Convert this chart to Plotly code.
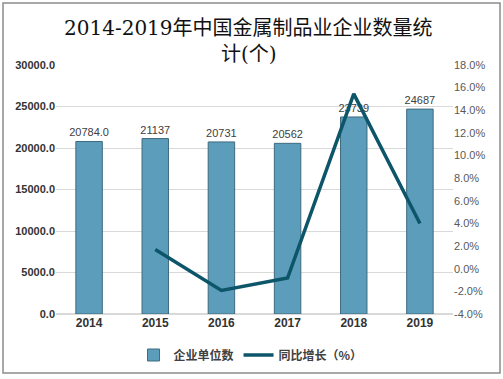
import plotly.graph_objects as go

years = ["2014", "2015", "2016", "2017", "2018", "2019"]
counts = [20784, 21137, 20731, 20562, 23739, 24687]
count_labels = ["20784.0", "21137", "20731", "20562", "23739", "24687"]
growth_years = ["2015", "2016", "2017", "2018", "2019"]
growth = [1.70, -1.92, -0.82, 15.45, 3.99]

left_ticks = [0, 5000, 10000, 15000, 20000, 25000, 30000]
left_labels = ["0.0", "5000.0", "10000.0", "15000.0", "20000.0", "25000.0", "30000.0"]
right_ticks = [-4, -2, 0, 2, 4, 6, 8, 10, 12, 14, 16, 18]
right_labels = [f"{v:.1f}%" for v in right_ticks]

title_lines = ["2014-2019年中国金属制品业企业数量统", "计(个)"]

PH = 249.0  # plot height in px
PW = 397.0  # plot width in px

fig = go.Figure()
fig.add_trace(go.Bar(
    x=years, y=counts, name="企业单位数",
    text=count_labels, textposition="outside", cliponaxis=False, constraintext="none",
    textfont=dict(size=11, color="#404040", family="Liberation Sans, Arial"),
    marker=dict(color="#5c9dbb", line=dict(color="#3f6a7e", width=1)),
    width=0.4,
))
fig.add_trace(go.Scatter(
    x=growth_years, y=growth, name="同比增长（%）", yaxis="y2",
    mode="lines", line=dict(color="#0d5569", width=3.5),
))

title_font = dict(size=20, color="#111111", family="DejaVu Serif, Noto Sans CJK SC")

fig.update_layout(
    width=503, height=379,
    margin=dict(l=56, r=50, t=65, b=65, autoexpand=False),
    paper_bgcolor="white", plot_bgcolor="white",
    bargap=0.6,
    xaxis=dict(
        type="category", showgrid=False, showline=False, ticks="", automargin=False,
        tickfont=dict(size=12, color="#333333", family="Liberation Sans, Arial", weight="bold"),
    ),
    yaxis=dict(
        range=[0, 30000], tickvals=left_ticks, ticktext=left_labels, automargin=False,
        showgrid=True, gridcolor="#d9d9d9", gridwidth=1, zeroline=True, zerolinecolor="#d9d9d9",
        showline=False, ticks="",
        tickfont=dict(size=11, color="#333333", family="Liberation Sans, Arial", weight="bold"),
    ),
    yaxis2=dict(
        range=[-4, 18], tickvals=right_ticks, ticktext=right_labels, automargin=False,
        overlaying="y", side="right", showgrid=False, zeroline=False, showline=False, ticks="",
        tickfont=dict(size=11, color="#595959", family="Liberation Sans, Arial"),
    ),
    legend=dict(
        orientation="h", x=0.49, xanchor="center", y=-41/PH, yanchor="middle",
        font=dict(size=12, color="#404040", family="Noto Sans CJK SC", weight="bold"),
    ),
    annotations=[
        dict(text=title_lines[0], xref="paper", yref="paper", x=0.485, y=1 + 37/PH,
             xanchor="center", yanchor="middle", showarrow=False, font=title_font),
        dict(text=title_lines[1], xref="paper", yref="paper", x=0.485, y=1 + 11/PH,
             xanchor="center", yanchor="middle", showarrow=False, font=title_font),
    ],
    shapes=[
        dict(type="rect", xref="paper", yref="paper",
             x0=-53/PW, x1=1 + 47/PW, y0=-59/PH, y1=1 + 62/PH,
             line=dict(color="#8c8c8c", width=1.5), fillcolor="rgba(0,0,0,0)", layer="below"),
    ],
)

fig.write_html(
    "out.html",
    config={"displayModeBar": False},
    post_script="document.body.style.margin='0';document.body.style.overflow='hidden';",
)
